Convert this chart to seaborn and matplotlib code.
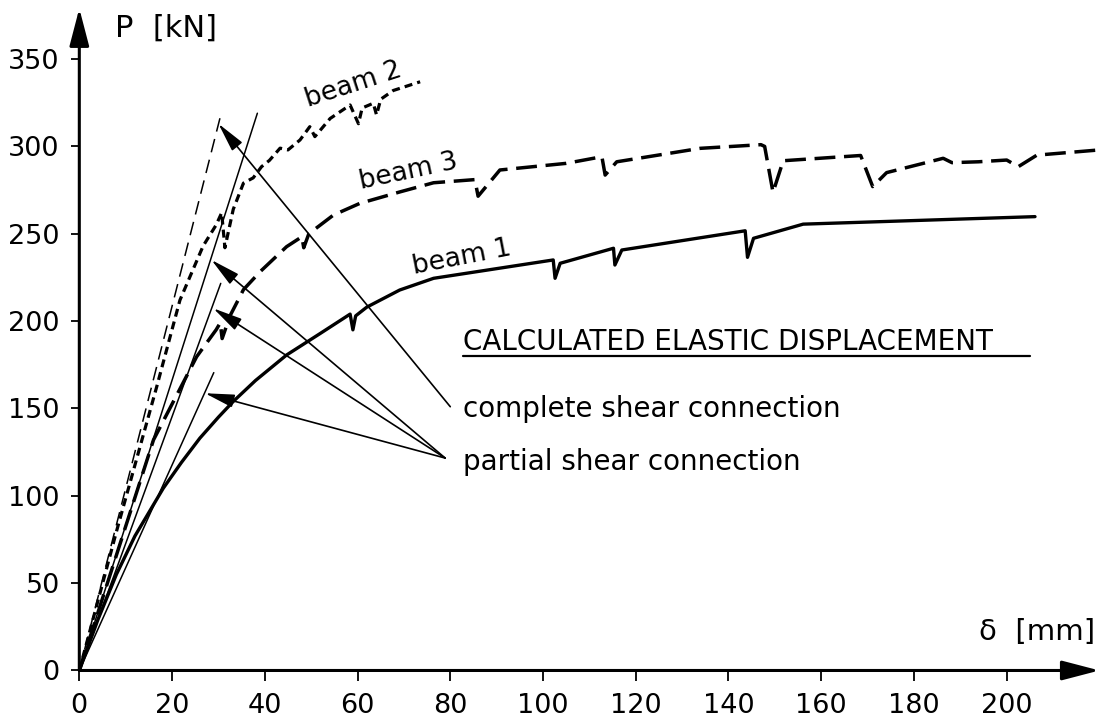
import matplotlib
matplotlib.use("Agg")
import matplotlib.pyplot as plt
import seaborn as sns

# measured load-deflection curves (delta in mm, P in kN)
beam1_delta = [0, 4, 8, 12, 18.1, 22, 26, 30, 33.2, 38, 44.7, 52, 58.4, 59.0, 59.6, 62, 69.1, 76.4, 85,
               102.2, 102.6, 103.7, 115.2, 115.5, 117, 143.6, 144.1, 145.4, 156.1, 206.1]
beam1_load = [0, 29, 55, 77, 104.3, 119, 133, 145, 154, 166, 180.6, 193, 204, 195, 203, 208, 217.8, 224.5, 228,
              235, 224.5, 233.1, 241.7, 232.1, 240.7, 251.7, 236.5, 247.4, 255.5, 259.8]

beam2_delta = [0, 8.1, 16.7, 21.7, 26.7, 29.5, 30.7, 31.4, 33.2, 35.4, 37.5, 39.3, 41, 43.3, 45,
               47.6, 49.7, 50.8, 54.1, 58.4, 60.2, 61, 63.4, 64.1, 65, 67.7, 73.5]
beam2_load = [0, 80.4, 162.5, 212, 243, 255, 262, 242, 264, 279, 282, 288.4, 292, 299, 298,
              303.7, 311.3, 305.6, 316, 323.7, 313, 322, 324.7, 318, 327, 332, 337]

beam3_delta = [0, 8, 16, 25.3, 29.5, 30.4, 30.8, 32.5, 35.4, 39, 44.7, 48, 48.4, 49.5, 54.8, 60.5,
               69.2, 76.4, 85.3, 86, 90.7, 105, 112.7, 113.4, 115.9, 133.9, 147, 147.8, 149.6,
               151.8, 168.5, 171.1, 174.1, 186.3, 188.2, 193.9, 200, 202.5, 206.5, 220]
beam3_load = [0, 66, 132, 179.6, 195, 199, 190, 203, 218, 228.3, 242.6, 248.3, 242, 250, 260.7, 267.4,
              274, 279.2, 281, 271.5, 286.5, 290.3, 294.1, 283.6, 291.2, 298.9, 301, 300, 273.7,
              291.8, 294.8, 277, 285, 293.2, 290.7, 291.2, 292.2, 288.4, 295, 298]

# calculated elastic displacement lines (end points, all start at the origin)
calc_delta = [30.7, 38.4, 30.5, 29.0]
calc_load = [320, 319, 221.6, 170.5]
calc_dashed = [True, False, False, False]

# annotation arrows
complete_tail = (80, 151)
complete_tip = (30, 313)
partial_tail = (78.9, 121.6)
partial_tips = [(28.5, 235), (28.9, 207.3), (27.1, 158.7)]

x_ticks = list(range(0, 201, 20))
y_ticks = list(range(0, 351, 50))

sns.set_theme(style="white")
plt.rcParams["font.family"] = ["DejaVu Sans"]
plt.rcParams["text.color"] = "black"

fig = plt.figure(figsize=(11, 7.25), dpi=100)
ax = fig.add_axes([0.0721, 0.0752, 0.9274, 0.9132])
ax.set_xlim(0, 220)
ax.set_ylim(0, 379)
for s in ax.spines.values():
    s.set_visible(False)

# calculated lines (thin)
for d, p, dashed in zip(calc_delta, calc_load, calc_dashed):
    sns.lineplot(x=[0, d], y=[0, p], ax=ax, color="black", lw=1.1,
                 linestyle=(0, (9, 5)) if dashed else "-", sort=False, estimator=None)

# test curves (thick)
sns.lineplot(x=beam1_delta, y=beam1_load, ax=ax, color="black", lw=2.4,
             sort=False, estimator=None)
sns.lineplot(x=beam2_delta, y=beam2_load, ax=ax, color="black", lw=2.3,
             linestyle=(0, (2.5, 1.6)), sort=False, estimator=None)
sns.lineplot(x=beam3_delta, y=beam3_load, ax=ax, color="black", lw=2.5,
             linestyle=(0, (6, 2.5)), sort=False, estimator=None)

# axes with arrow heads
axis_arrow = dict(arrowstyle="-|>,head_length=1.15,head_width=0.3", mutation_scale=20,
                  lw=2.2, color="black", shrinkA=0, shrinkB=0)
ax.annotate("", xy=(220, 0), xytext=(0, 0), arrowprops=axis_arrow, annotation_clip=False)
ax.annotate("", xy=(0, 379), xytext=(0, 0), arrowprops=axis_arrow, annotation_clip=False)

ax.set_xticks(x_ticks)
ax.set_yticks(y_ticks)
ax.tick_params(axis="x", direction="out", length=8, width=1.3, pad=8, labelsize=19.5,
               bottom=True, colors="black")
ax.tick_params(axis="y", direction="out", length=6, width=1.3, pad=8, labelsize=19.5,
               left=True, colors="black")
ax.grid(False)

# axis titles
ax.text(7.7, 362.8, "P  [kN]", fontsize=22, ha="left", va="baseline")
ax.text(219, 17.5, "δ  [mm]", fontsize=21, ha="right", va="baseline")

# curve labels
ax.text(59.1, 335, "beam 2", fontsize=19, rotation=18, ha="center", va="center")
ax.text(71, 285.5, "beam 3", fontsize=19, rotation=12, ha="center", va="center")
ax.text(82.5, 236.4, "beam 1", fontsize=19, rotation=11, ha="center", va="center")

# legend block
ax.text(82.7, 183.5, "CALCULATED ELASTIC DISPLACEMENT", fontsize=20, ha="left", va="baseline")
ax.plot([82.7, 205], [180, 180], color="black", lw=1.6)
ax.text(82.7, 145.3, "complete shear connection", fontsize=20, ha="left", va="baseline")
ax.text(82.7, 114.8, "partial shear connection", fontsize=20, ha="left", va="baseline")

pointer = dict(arrowstyle="-|>,head_length=0.9,head_width=0.2", mutation_scale=20,
               lw=1.2, color="black", shrinkA=0, shrinkB=0)
ax.annotate("", xy=complete_tip, xytext=complete_tail, arrowprops=pointer)
for tip in partial_tips:
    ax.annotate("", xy=tip, xytext=partial_tail, arrowprops=pointer)

fig.savefig("out.png", dpi=100)
